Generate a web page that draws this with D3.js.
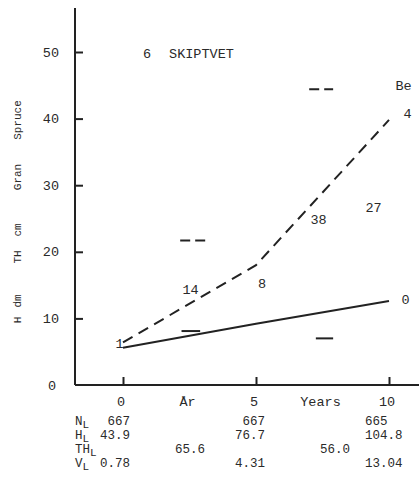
<!DOCTYPE html>
<html>
<head>
<meta charset="utf-8">
<script src="https://cdn.jsdelivr.net/npm/d3@7"></script>
<style>
  html, body { margin: 0; padding: 0; background: #fff; }
  svg { display: block; }
  text { font-family: "Liberation Mono", "DejaVu Sans Mono", monospace; fill: #2a2a2a; }
</style>
</head>
<body>
<svg id="chart" width="419" height="477"></svg>
<script>
// Height development of spruce, Skiptvet plot 6
const years = [0, 5, 10];
const heightBe = [6.4, 18.0, 39.8];   // dashed curve
const heightO = [5.6, 9.2, 12.6];     // solid curve

// short level marks between measurements: [fromYear, toYear, value]
const dashedMarks = [[2.15, 3.1, 21.7], [7.0, 7.9, 44.4]];
const solidMarks = [[2.2, 2.9, 8.1], [7.25, 7.9, 7.0]];

// number annotations: [text, year, value]
const annotations = [
  ["1", -0.13, 6.3], ["14", 2.54, 14.3], ["8", 5.23, 15.2],
  ["38", 7.35, 24.8], ["27", 9.42, 26.7], ["4", 10.7, 40.8],
  ["Be", 10.55, 45.0], ["0", 10.62, 12.9],
  ["6", 0.9, 49.7], ["SKIPTVET", 2.95, 49.7]
];

const yTicks = [0, 10, 20, 30, 40, 50];
const xTicks = [0, 5, 10];
const xLabels = [["0", 0], ["År", 2.5], ["5", 5], ["Years", 7.5], ["10", 10]];

// table beneath the axis
const rowNames = [["N", "L"], ["H", "L"], ["TH", "L"], ["V", "L"]];
const nValues = [["667", 0], ["667", 5], ["665", 10]];
const hValues = [["43.9", 0], ["76.7", 5], ["104.8", 10]];
const thValues = [["65.6", 2.5], ["56.0", 7.5]];
const vValues = [["0.78", 0], ["4.31", 5], ["13.04", 10]];

const svg = d3.select("#chart");
const x = d3.scaleLinear().domain([0, 10]).range([123, 389]);
const y = d3.scaleLinear().domain([0, 50]).range([385, 52]);
const yTop = 56.6;
const fs = 13.5;

// axes
svg.append("line").attr("x1", x(0) - 48).attr("x2", 419)
  .attr("y1", y(0)).attr("y2", y(0)).attr("stroke", "#222").attr("stroke-width", 2);
svg.append("line").attr("x1", x(0) - 48).attr("x2", x(0) - 48)
  .attr("y1", y(0)).attr("y2", y(yTop)).attr("stroke", "#222").attr("stroke-width", 2);

const yAxis = svg.append("g").attr("transform", `translate(${x(0) - 48},0)`)
  .call(d3.axisRight(y).tickValues(yTicks.filter(d => d > 0)).tickSize(8).tickFormat(""));
yAxis.select(".domain").remove();
yAxis.selectAll(".tick line").attr("stroke", "#222").attr("stroke-width", 2);

const xAxis = svg.append("g").attr("transform", `translate(0,${y(0)})`)
  .call(d3.axisTop(x).tickValues(xTicks).tickSize(8).tickFormat(""));
xAxis.select(".domain").remove();
xAxis.selectAll(".tick line").attr("stroke", "#222").attr("stroke-width", 2);

// y tick labels
svg.selectAll("text.ytl").data(yTicks).join("text")
  .attr("class", "ytl")
  .attr("x", d => d === 0 ? 56 : 59)
  .attr("y", d => y(d) + 4.5)
  .attr("text-anchor", "end")
  .attr("font-size", fs)
  .text(d => d);

// rotated axis title, word by word
const titleParts = [["Spruce", 120], ["Gran", 177], ["cm", 230], ["TH", 257], ["dm", 301], ["H", 320]];
titleParts.forEach(([t, cy]) => {
  svg.append("text")
    .attr("transform", `translate(21,${cy}) rotate(-90)`)
    .attr("text-anchor", "middle")
    .attr("font-size", 11)
    .text(t);
});

// x labels
svg.selectAll("text.xtl").data(xLabels).join("text")
  .attr("class", "xtl")
  .attr("x", d => x(d[1]) - 2)
  .attr("y", 406)
  .attr("text-anchor", "middle")
  .attr("font-size", fs)
  .text(d => d[0]);

// curves
const line = d3.line().x((d, i) => x(years[i])).y(d => y(d));
svg.append("path").datum(heightO).attr("d", line)
  .attr("fill", "none").attr("stroke", "#222").attr("stroke-width", 2);
svg.append("path").datum(heightBe).attr("d", line)
  .attr("fill", "none").attr("stroke", "#222").attr("stroke-width", 2)
  .attr("stroke-dasharray", "11,7");

// level marks
svg.selectAll("line.dm").data(dashedMarks).join("line")
  .attr("class", "dm")
  .attr("x1", d => x(d[0])).attr("x2", d => x(d[1]))
  .attr("y1", d => y(d[2])).attr("y2", d => y(d[2]))
  .attr("stroke", "#222").attr("stroke-width", 2).attr("stroke-dasharray", "10,5");
svg.selectAll("line.sm").data(solidMarks).join("line")
  .attr("class", "sm")
  .attr("x1", d => x(d[0])).attr("x2", d => x(d[1]))
  .attr("y1", d => y(d[2])).attr("y2", d => y(d[2]))
  .attr("stroke", "#222").attr("stroke-width", 2);

// annotations
svg.selectAll("text.ann").data(annotations).join("text")
  .attr("class", "ann")
  .attr("x", d => x(d[1]))
  .attr("y", d => y(d[2]) + 4.5)
  .attr("text-anchor", "middle")
  .attr("font-size", fs)
  .text(d => d[0]);

// table
const tfs = 12.5;
const rowY = [425, 438.5, 453, 467];
rowNames.forEach(([n, sub], i) => {
  const t = svg.append("text").attr("x", 75).attr("y", rowY[i]).attr("font-size", tfs);
  t.append("tspan").text(n);
  t.append("tspan").attr("dy", 3).attr("font-size", 11).text(sub);
});
const colLayout = {
  0: { anchor: "end", dx: 7 },
  2.5: { anchor: "start", dx: -14.5 },
  5: { anchor: "end", dx: 9 },
  7.5: { anchor: "start", dx: -2.5 },
  10: { anchor: "start", dx: -24 }
};
[nValues, hValues, thValues, vValues].forEach((row, i) => {
  row.forEach(([t, yr]) => {
    svg.append("text")
      .attr("x", x(yr) + colLayout[yr].dx)
      .attr("y", rowY[i])
      .attr("text-anchor", colLayout[yr].anchor)
      .attr("font-size", tfs)
      .text(t);
  });
});
</script>
</body>
</html>
